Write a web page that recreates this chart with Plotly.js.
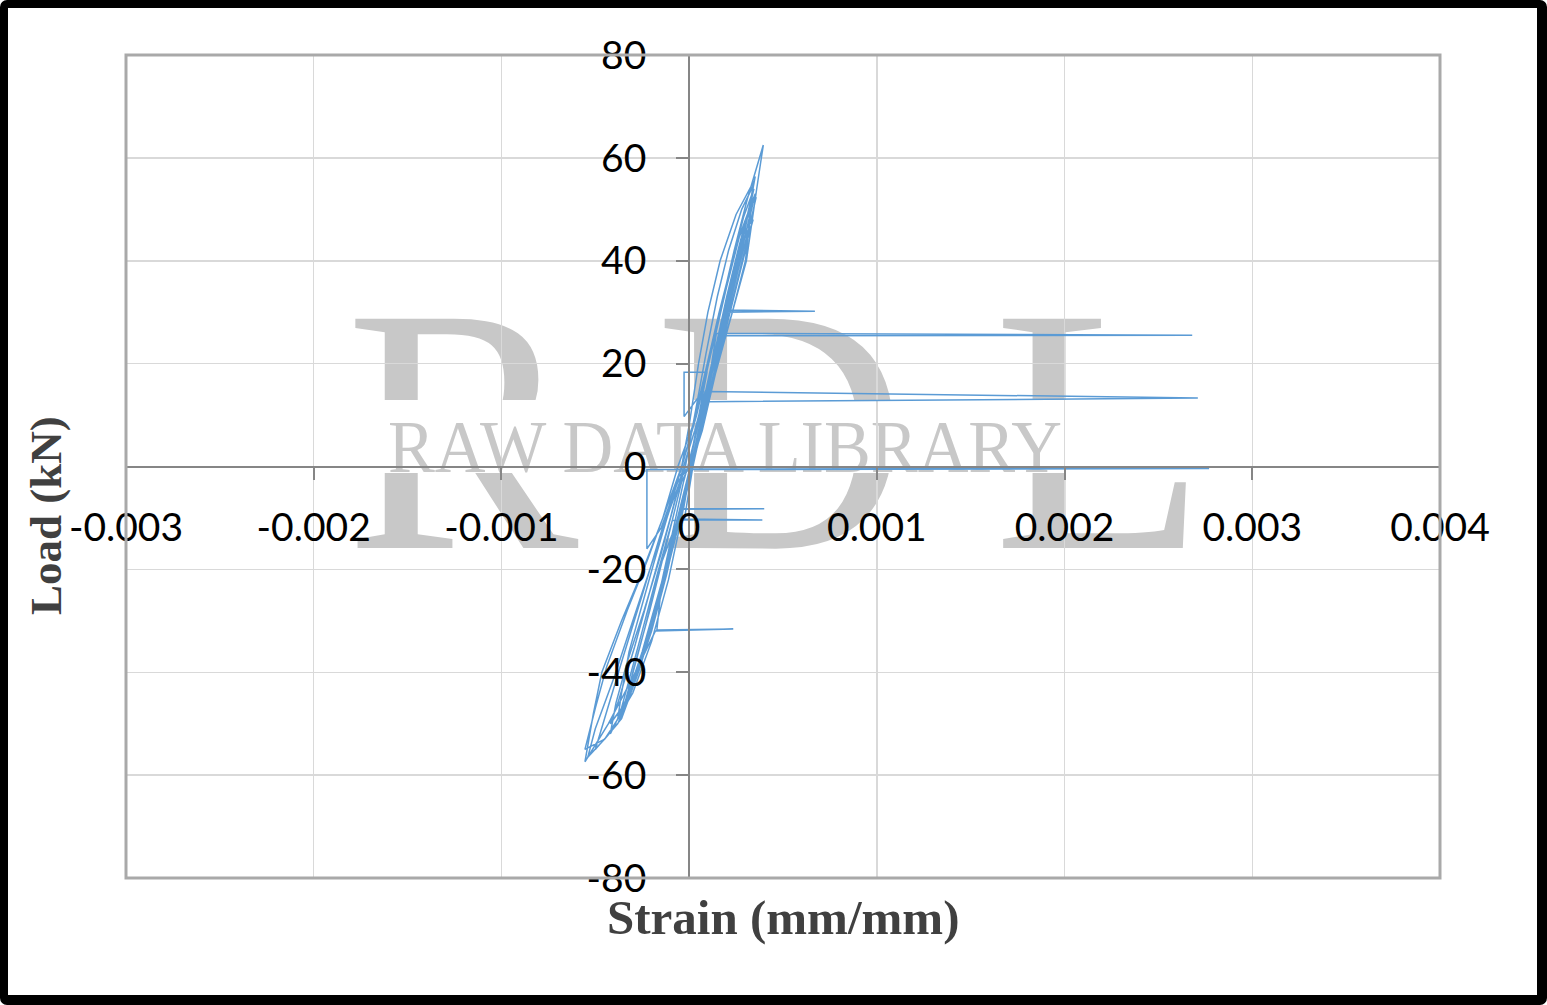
<!DOCTYPE html>
<html>
<head>
<meta charset="utf-8">
<script src="https://cdn.plot.ly/plotly-3.0.1.min.js"></script>
<style>
  html, body { margin: 0; padding: 0; background: #ffffff; }
  #wrap { position: relative; width: 1547px; height: 1005px; overflow: hidden; background: #ffffff; }
  #wm { position: absolute; left: 0; top: 0; z-index: 0; }
  #chart { position: absolute; left: 0; top: 0; width: 1547px; height: 1005px; z-index: 1; }
  #frame { position: absolute; left: 0; top: 0; width: 1547px; height: 1005px; box-sizing: border-box;
           border-style: solid; border-color: #000; border-width: 8px 10px 10px 8px; border-radius: 7px;
           z-index: 2; pointer-events: none; }
</style>
</head>
<body>
<div id="wrap">
  <svg id="wm" width="1547" height="1005" xmlns="http://www.w3.org/2000/svg">
    <text x="462" y="548" text-anchor="middle" font-family="Liberation Serif" font-size="350" fill="#C8C8C8">R</text>
    <text x="781" y="548" text-anchor="middle" font-family="Liberation Serif" font-size="350" fill="#C8C8C8">D</text>
    <text x="1100" y="548" text-anchor="middle" font-family="Liberation Serif" font-size="350" fill="#C8C8C8">L</text>
    <rect x="330" y="400" width="900" height="73" fill="#ffffff"></rect>
    <text x="388" y="472" font-family="Liberation Serif" font-size="74" fill="#C8C8C8" textLength="674" lengthAdjust="spacingAndGlyphs">RAW DATA LIBRARY</text>
  </svg>
  <div id="chart"></div>
  <div id="frame"></div>
</div>
<script>
// Strain in microstrain (x 1e-6 mm/mm) and load in kN
const strainMicro = [
  0, 35, 80, 130, 185, 670, 195, 230, 215, 150, 80, 20, -40, -100, -150, -185, -150, -90, -30,
  0, 60, 120, 180, 240, 290, 325, 300, 230, 150, 80, 10, -60, -140, -220, -300, -352, -320, -240, -150, -40, 400, -30, 0,
  20, 60, 110, 170, 240, 300, 341, 310, 240, 160, 80, 20, -60, -150, -240, -320, -368, -330, -250, -170, -90, -32, 390, -25, 0, 20,
  40, 80, 120, 145, 2680, 155, 200, 260, 310, 357, 330, 260, 180, 100, 30, -40, -120, -200, -290, -360, -420, -380, -290, -200, -100, -30,
  30, 85, 2710, 105, 150, 210, 270, 320, 352, 330, 260, 180, 100, 30, -20, -100, -190, -280, -380, -500, -460, -360, -250, -150, -60, 5, 2770, -225, -225, -150, -60, 0,
  40, 95, -27, -27, 60, 130, 200, 270, 330, 352, 320, 240, 160, 80, 10, -80, -170, -260, -360, -450, -555, -500, -440, -330, -220, -120, -40,
  30, 100, 170, 240, 310, 395, 360, 305, 215, 140, 70, 0, -80, -150, -172, 235, -180, -300, -430, -555, -510, -465, -360, -245, -140, -60,
  20, 90, 160, 230, 290, 345, 320, 250, 170, 90, 20, -60, -150, -250, -360, -450, -540, -500, -400, -300, -200, -100, -20,
  -40, 0, 50, 100, 165, 250, 345, 320, 280, 230, 160, 90, 30, -20, -80, -160, -250, -340, -420, -390, -330, -240, -150, -70, -20,
  -20, 40, 90, 150, 210, 280, 340, 330, 300, 230, 150, 80, 10, -40, -110, -200, -300, -380, -360, -320, -260, -190, -110, -40,
  40, 110, 190, 260, 330, 300, 220, 140, 60, 0, -80, -170, -260, -340, -300, -210, -120, -40, 0
];
const loadKN = [
  0, 6, 13, 21, 30.4, 30.2, 30.0, 35, 31, 21, 10, 1, -8, -17, -24, -29, -23, -13, -3,
  1, 10, 20, 29, 38, 44, 46.7, 42, 32, 20, 9, -1, -11, -22, -33, -43, -47.3, -43, -32, -19, -8.2, -8.2, -8.3, -2,
  0, 7, 17, 28, 39, 46, 48, 44, 34, 22, 10, 0, -12, -25, -36, -45, -48, -43, -32, -21, -10.5, -10.4, -10.4, -10.2, -4, 0,
  4, 12, 20, 25.9, 25.5, 25.4, 33, 42, 49, 52.4, 48, 38, 26, 13, 2, -8, -21, -32, -42, -47, -50, -46, -35, -23, -10, 0,
  7, 14.6, 13.3, 12.6, 22, 32, 42, 50, 56.4, 52, 41, 28, 15, 3, -4, -16, -29, -41, -50, -55, -50, -38, -25, -13, -2, -0.2, -0.4, -0.6, -16, -12, -3, 0,
  8, 18.3, 18.3, 9.7, 14, 24, 35, 45, 51, 53, 48, 36, 24, 12, 0, -14, -27, -39, -49, -53, -55, -47, -39, -28, -18, -8, 0,
  9, 20, 31, 42, 52, 62.5, 54, 40, 28, 18, 7, -1, -13, -24, -31.8, -31.6, -32, -41, -50, -57.4, -48, -40, -30, -20, -10, 0,
  8, 19, 30, 40, 48.5, 54, 50, 39, 27, 14, 2, -10, -23, -36, -48, -53, -56.5, -51, -41, -30, -19, -8, 0,
  0, 8, 20, 30, 40, 49, 55.5, 50, 43, 36, 25, 13, 3, -5, -14, -26, -37, -46, -52, -46, -38, -28, -17, -6, 0,
  0, 12, 22, 33, 42, 50, 54.5, 50, 40, 30, 20, 10, 0, -10, -22, -34, -44, -49, -44, -36, -28, -19, -9, 0,
  10, 21, 34, 44, 50, 45, 33, 21, 8, -1, -13, -26, -38, -46, -40, -28, -15, -3, 0
];
const xTickVals = [-0.003, -0.002, -0.001, 0, 0.001, 0.002, 0.003, 0.004];
const xTickText = ["-0.003", "-0.002", "-0.001", "0", "0.001", "0.002", "0.003", "0.004"];
const yTickVals = [-80, -60, -40, -20, 0, 20, 40, 60, 80];
const yTickText = ["-80", "-60", "-40", "-20", "0", "20", "40", "60", "80"];
const xTitle = "Strain (mm/mm)";
const yTitle = "Load (kN)";

const strain = strainMicro.map(v => v * 1e-6);

const trace = {
  type: "scatter",
  mode: "lines",
  x: strain,
  y: loadKN,
  line: { color: "#5B9BD5", width: 1.5 },
  hoverinfo: "skip",
  showlegend: false
};

const axisCommon = {
  showline: true,
  linecolor: "#868686",
  linewidth: 2,
  ticks: "outside",
  ticklen: 12,
  tickwidth: 2,
  tickcolor: "#868686",
  showgrid: true,
  gridcolor: "#D9D9D9",
  gridwidth: 1.5,
  zeroline: false,
  tickfont: { family: "Lato, 'Open Sans', sans-serif", size: 39, color: "#000000" },
  tickmode: "array",
  fixedrange: true
};

const layout = {
  width: 1547,
  height: 1005,
  margin: { l: 126, r: 107, t: 55, b: 127, pad: 0 },
  paper_bgcolor: "rgba(0,0,0,0)",
  plot_bgcolor: "rgba(0,0,0,0)",
  showlegend: false,
  xaxis: Object.assign({}, axisCommon, {
    range: [-0.003, 0.004],
    tickvals: xTickVals,
    ticktext: xTickText,
    anchor: "free",
    position: 0.5,
    ticklabelstandoff: 15
  }),
  yaxis: Object.assign({}, axisCommon, {
    range: [-80, 80],
    tickvals: yTickVals,
    ticktext: yTickText,
    anchor: "free",
    position: 3 / 7,
    ticklabelstandoff: 22
  }),
  shapes: [{
    type: "rect", xref: "paper", yref: "paper", x0: 0, x1: 1, y0: 0, y1: 1,
    line: { color: "#A9A9A9", width: 3 }, fillcolor: "rgba(0,0,0,0)", layer: "above"
  }],
  annotations: [
    {
      text: "<b>" + xTitle + "</b>", xref: "paper", yref: "paper",
      x: 0.5, y: (878 - 917) / 823, xanchor: "center", yanchor: "middle", showarrow: false,
      font: { family: "'Liberation Serif', 'Times New Roman', serif", size: 49, color: "#404040" }
    },
    {
      text: "<b>" + yTitle + "</b>", xref: "paper", yref: "paper", textangle: -90,
      x: (46 - 126) / 1314, y: (878 - 516) / 823, xanchor: "center", yanchor: "middle", showarrow: false,
      font: { family: "'Liberation Serif', 'Times New Roman', serif", size: 45, color: "#404040" }
    }
  ]
};

Plotly.newPlot("chart", [trace], layout, { displayModeBar: false, staticPlot: true });
</script>
</body>
</html>
